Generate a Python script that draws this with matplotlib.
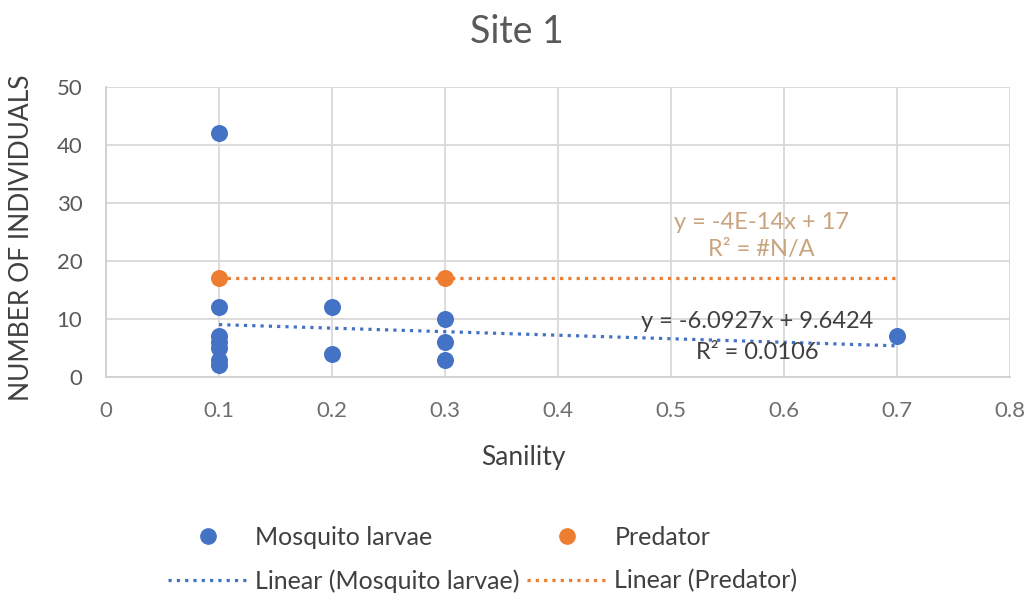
import matplotlib
matplotlib.use("Agg")
import matplotlib.pyplot as plt
from matplotlib.lines import Line2D
import numpy as np

plt.rcParams['font.family'] = ['Lato', 'DejaVu Sans']

# Data
mosq_x = [0.1, 0.1, 0.1, 0.1, 0.1, 0.1, 0.1, 0.2, 0.2, 0.3, 0.3, 0.3, 0.7]
mosq_y = [42, 12, 7, 6, 5, 3, 2, 12, 4, 10, 6, 3, 7]
pred_x = [0.1, 0.3]
pred_y = [17, 17]

mosq_slope, mosq_intercept = -6.0927, 9.6424
pred_slope, pred_intercept = -4e-14, 17
mosq_eq = ["y = -6.0927x + 9.6424", "R² = 0.0106"]
pred_eq = ["y = -4E-14x + 17", "R² = #N/A"]

x_ticks = [0, 0.1, 0.2, 0.3, 0.4, 0.5, 0.6, 0.7, 0.8]
y_ticks = [0, 10, 20, 30, 40, 50]

blue = "#4472C4"
orange = "#ED7D31"
grey = "#595959"
dark = "#404040"
dots = (0, (1.0, 1.6))

W, H = 1034, 605
fig = plt.figure(figsize=(W / 100, H / 100), dpi=100)
ax_l, ax_r, ax_t, ax_b = 106, 1010, 87, 377
ax = fig.add_axes([ax_l / W, 1 - ax_b / H, (ax_r - ax_l) / W, (ax_b - ax_t) / H])

# trendlines
tx = np.array([min(mosq_x), max(mosq_x)])
ax.plot(tx, mosq_slope * tx + mosq_intercept, color=blue, lw=2.3,
        linestyle=dots, zorder=3)
ax.plot(tx, pred_slope * tx + pred_intercept, color=orange, lw=2.3,
        linestyle=dots, zorder=3)

ax.scatter(mosq_x, mosq_y, s=150, color=blue, zorder=4, linewidths=0)
ax.scatter(pred_x, pred_y, s=150, color=orange, zorder=4, linewidths=0)

ax.set_xlim(0, 0.8)
ax.set_ylim(0, 50)
ax.set_xticks(x_ticks)
ax.set_xticklabels([f"{v:g}" for v in x_ticks])
ax.set_yticks(y_ticks)
ax.grid(True, color="#D9D9D9", lw=1.3)
ax.set_axisbelow(True)
for s in ["top", "right"]:
    ax.spines[s].set_visible(False)
for s in ["bottom", "left"]:
    ax.spines[s].set_color("#D0D0D0")
    ax.spines[s].set_linewidth(1.3)
ax.tick_params(length=0, labelsize=16, colors=grey)
ax.tick_params(axis="x", pad=17, colors="#6f6f6f")
ax.tick_params(axis="y", pad=17)

ax.text(0.58, 26.7, pred_eq[0], color="#C9A47E", fontsize=17, ha="center", va="center")
ax.text(0.58, 21.9, pred_eq[1], color="#C9A47E", fontsize=17, ha="center", va="center")
ax.text(0.576, 9.5, mosq_eq[0], color=dark, fontsize=17, ha="center", va="center")
ax.text(0.576, 4.3, mosq_eq[1], color=dark, fontsize=17, ha="center", va="center")

fig.text(517 / W, 1 - 32 / H, "Site 1", ha="center", va="center", fontsize=27, color=grey)
fig.text(523 / W, 1 - 458 / H, "Sanility", ha="center", va="center", fontsize=19, color=dark)
fig.text(22 / W, 1 - 238 / H, "NUMBER OF INDIVIDUALS", ha="center", va="center",
         fontsize=19, color=dark, rotation=90)

handles = [
    Line2D([], [], marker="o", color=blue, linestyle="none", markersize=11),
    Line2D([], [], color=blue, lw=2.3, linestyle=dots),
    Line2D([], [], marker="o", color=orange, linestyle="none", markersize=11),
    Line2D([], [], color=orange, lw=2.3, linestyle=dots),
]
labels = ["Mosquito larvae", "Linear (Mosquito larvae)", "Predator", "Linear (Predator)"]
fig.legend(handles, labels, ncol=2, loc="center left", bbox_to_anchor=(155 / W, 1 - 559.5 / H),
           frameon=False, fontsize=18, labelcolor=dark, handlelength=3.2,
           columnspacing=0.3, handletextpad=0.3, labelspacing=0.8, borderpad=0)

fig.savefig("out.png", dpi=100)
